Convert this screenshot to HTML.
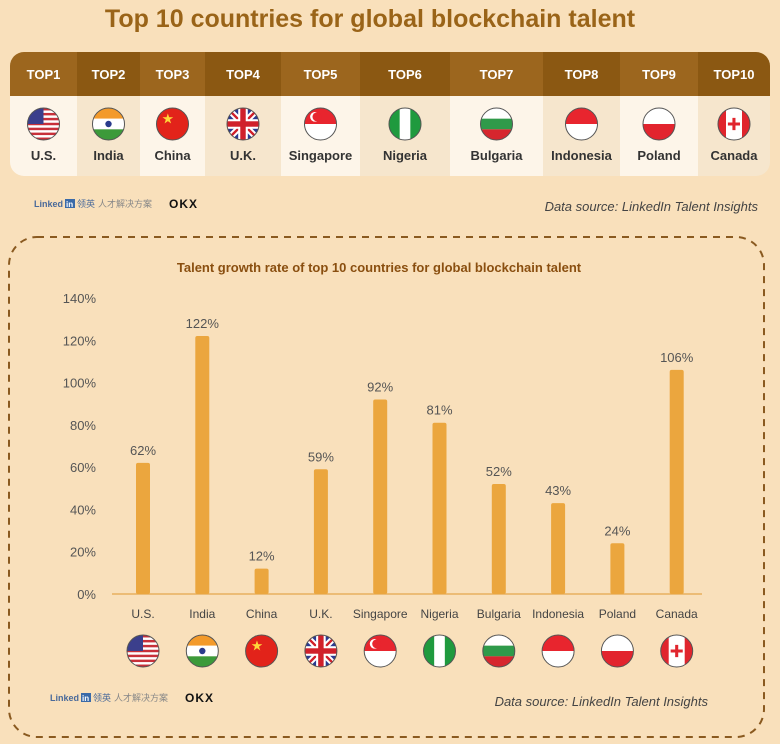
<!DOCTYPE html>
<html><head><meta charset="utf-8"><style>
body{margin:0;width:780px;height:744px;background:#f9e0bb;font-family:"Liberation Sans","Noto Sans CJK SC",sans-serif;position:relative;overflow:hidden}
svg{position:absolute;left:0;top:0}
</style></head><body>
<svg id="s" width="780" height="744" viewBox="0 0 780 744"></svg>
<script>
const categories=["U.S.","India","China","U.K.","Singapore","Nigeria","Bulgaria","Indonesia","Poland","Canada"];
const growthValues=[62,122,12,59,92,81,52,43,24,106];
const tickValues=[0,20,40,60,80,100,120,140];
const ranks=["TOP1","TOP2","TOP3","TOP4","TOP5","TOP6","TOP7","TOP8","TOP9","TOP10"];
const flagCodes=["us","in","cn","uk","sg","ng","bg","id","pl","ca"];

const NS="http://www.w3.org/2000/svg";
const s=document.getElementById('s');
function mk(tag,attrs,parent,text){const e=document.createElementNS(NS,tag);for(const k in attrs)e.setAttribute(k,attrs[k]);if(text!==undefined)e.textContent=text;(parent||s).appendChild(e);return e;}
let clipId=0;
function flag(code,cx,cy,r,parent){
  const g=mk('g',{},parent);
  
  
  const id='c'+(clipId++);
  const cp=mk('clipPath',{id:id},g);mk('circle',{cx:cx,cy:cy,r:r},cp);
  const f=mk('g',{'clip-path':'url(#'+id+')'},g);
  const x=cx-r,y=cy-r,w=2*r;
  const R=(a,b,c,d,col)=>mk('rect',{x:a,y:b,width:c,height:d,fill:col},f);
  if(code==='us'){R(x,y,w,w,'#fff');for(let i=0;i<7;i++)R(x,y+i*w/6.5,w,w/13,'#c8303a');R(x,y,w*0.5,w*0.5,'#3b3f8c');}
  else if(code==='in'){R(x,y,w,w/3,'#f39a2b');R(x,y+w/3,w,w/3,'#fff');R(x,y+2*w/3,w,w/3,'#3c9a3a');mk('circle',{cx:cx,cy:cy,r:r*0.2,fill:'#2a3b8c'},f);}
  else if(code==='cn'){R(x,y,w,w,'#e2231a');mk('text',{x:x+w*0.18,y:y+w*0.45,'font-size':r*0.7,fill:'#ffd83a'},f,'★');}
  else if(code==='uk'){R(x,y,w,w,'#2b3a8f');mk('path',{d:`M${x} ${y}L${x+w} ${y+w}M${x+w} ${y}L${x} ${y+w}`,stroke:'#fff','stroke-width':r*0.4},f);mk('path',{d:`M${x} ${y}L${x+w} ${y+w}M${x+w} ${y}L${x} ${y+w}`,stroke:'#d0202a','stroke-width':r*0.15},f);R(cx-r*0.3,y,r*0.6,w,'#fff');R(x,cy-r*0.3,w,r*0.6,'#fff');R(cx-r*0.17,y,r*0.34,w,'#d0202a');R(x,cy-r*0.17,w,r*0.34,'#d0202a');}
  else if(code==='sg'){R(x,y,w,r,'#e8252e');R(x,cy,w,r,'#fff');mk('circle',{cx:cx-r*0.35,cy:cy-r*0.45,r:r*0.3,fill:'#fff'},f);mk('circle',{cx:cx-r*0.22,cy:cy-r*0.45,r:r*0.28,fill:'#e8252e'},f);}
  else if(code==='ng'){R(x,y,w,w,'#fff');R(x,y,w/3,w,'#1f9a3e');R(x+2*w/3,y,w/3,w,'#1f9a3e');}
  else if(code==='bg'){R(x,y,w,w/3,'#fff');R(x,y+w/3,w,w/3,'#2f9a4a');R(x,y+2*w/3,w,w/3,'#d6262e');}
  else if(code==='id'){R(x,y,w,r,'#e8252e');R(x,cy,w,r,'#fff');}
  else if(code==='pl'){R(x,y,w,r,'#fff');R(x,cy,w,r,'#e2242e');}
  else if(code==='ca'){R(x,y,w,w,'#fff');R(x,y,w*0.25,w,'#e0252d');R(x+w*0.75,y,w*0.25,w,'#e0252d');mk('text',{x:cx,y:cy+r*0.35,'font-size':r*0.9,fill:'#e0252d','text-anchor':'middle'},f,'✚');}
  mk('circle',{cx:cx,cy:cy,r:r,fill:'none',stroke:'#555','stroke-width':1},g);
}

const t=mk('text',{x:370,y:27,'font-size':25,'font-weight':'bold',fill:'#9a6418','text-anchor':'middle'},s,'Top 10 countries for global blockchain talent');


const bounds=[10,77,140,205,281,360,450,543,620,698,770];
const cp0=mk('clipPath',{id:'tbl'});mk('rect',{x:10,y:52,width:760,height:124,rx:14},cp0);
const tbl=mk('g',{'clip-path':'url(#tbl)'});

for(let i=0;i<10;i++){
  const x0=bounds[i],x1=bounds[i+1],cx=(x0+x1)/2;
  mk('rect',{x:x0,y:52,width:x1-x0,height:44,fill:i%2?'#8b5812':'#9c661e'},tbl);
  mk('rect',{x:x0,y:96,width:x1-x0,height:80,fill:i%2?'#f6e6cd':'#fdf5e9'},tbl);
  const h=mk('text',{x:cx,y:79,'font-size':13,'font-weight':'bold',fill:'#fff','text-anchor':'middle'},tbl,ranks[i]);
  
  flag(flagCodes[i],cx,124,16,tbl);
  const n=mk('text',{x:cx,y:160,'font-size':13,'font-weight':'bold',fill:'#333','text-anchor':'middle'},tbl,categories[i]);
  
}
function logos(x,y){
  const g=mk('g',{});
  mk('text',{x:x,y:y,'font-size':9,'font-weight':'bold',fill:'#4a6a9a'},g,'Linked');
  mk('rect',{x:x+31,y:y-8,width:10,height:9,fill:'#3a6aa8'},g);
  mk('text',{x:x+32,y:y,'font-size':8,'font-weight':'bold',fill:'#fff'},g,'in');
  mk('text',{x:x+43,y:y,'font-size':9,fill:'#4a6a9a'},g,'领英');
  mk('text',{x:x+64,y:y,'font-size':9,fill:'#888'},g,'人才解决方案');
  mk('text',{x:x+135,y:y+1,'font-size':12,'font-weight':'bold',fill:'#111','letter-spacing':'1'},g,'OKX');
}
logos(34,207);
const ds1=mk('text',{x:758,y:211,'font-size':13,'font-style':'italic',fill:'#444','text-anchor':'end'},s,'Data source: LinkedIn Talent Insights');


const fr=mk('rect',{x:9,y:237,width:755,height:500,rx:28,fill:'none',stroke:'#8a5a20','stroke-width':2,'stroke-dasharray':'7 6'});

const ct=mk('text',{x:379,y:272,'font-size':13,'font-weight':'bold',fill:'#8a4f10','text-anchor':'middle'},s,'Talent growth rate of top 10 countries for global blockchain talent');


const y0=594,pxPer=(594-298)/140;
const yScale=v=>y0-v*pxPer;
const xScale=i=>143+i*59.3;
for(const v of tickValues){
  const tk=mk('text',{x:96,y:yScale(v)+5,'font-size':13,fill:'#555','text-anchor':'end'},s,v+'%');
  
}
const ax=mk('line',{x1:112,y1:y0,x2:702,y2:y0,stroke:'#e8b060','stroke-width':1.5});

growthValues.forEach((v,i)=>{
  const cx=xScale(i);
  const b=mk('rect',{x:cx-7,y:yScale(v),width:14,height:y0-yScale(v),rx:2,fill:'#eba63e'});
  
  
  const l=mk('text',{x:cx,y:yScale(v)-8,'font-size':13,fill:'#555','text-anchor':'middle'},s,v+'%');
  
  const c=mk('text',{x:cx,y:618,'font-size':12,fill:'#444','text-anchor':'middle'},s,categories[i]);
  
  flag(flagCodes[i],cx,651,16,s);
});
logos(50,701);
const ds2=mk('text',{x:708,y:706,'font-size':13,'font-style':'italic',fill:'#444','text-anchor':'end'},s,'Data source: LinkedIn Talent Insights');

</script>
</body></html>
